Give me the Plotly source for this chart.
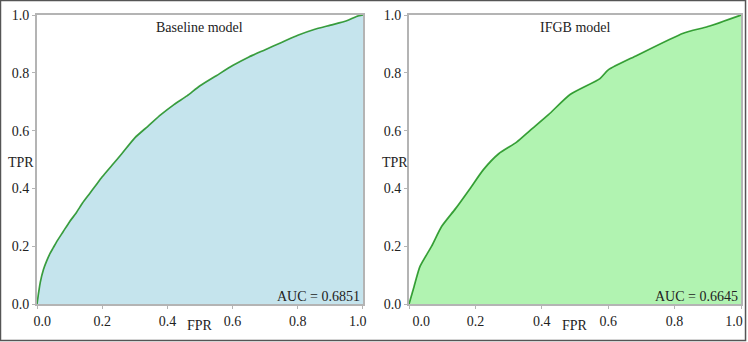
import plotly.graph_objects as go
from plotly.subplots import make_subplots

# ROC curves
baseline_fpr = [0.0, 0.005, 0.01, 0.02, 0.03, 0.04, 0.05, 0.06, 0.08, 0.10,
                0.12, 0.14, 0.16, 0.18, 0.20, 0.23, 0.26, 0.30, 0.34, 0.38,
                0.42, 0.46, 0.50, 0.55, 0.60, 0.65, 0.70, 0.75, 0.80, 0.85,
                0.90, 0.95, 0.98, 1.0]
baseline_tpr = [0.0, 0.04, 0.075, 0.12, 0.15, 0.175, 0.195, 0.215, 0.25, 0.285,
                0.315, 0.35, 0.38, 0.41, 0.44, 0.48, 0.52, 0.575, 0.615, 0.655,
                0.69, 0.72, 0.755, 0.79, 0.825, 0.855, 0.88, 0.905, 0.93, 0.95,
                0.965, 0.98, 0.995, 1.0]

ifgb_fpr = [0.0, 0.015, 0.033, 0.068, 0.098, 0.14, 0.184, 0.224, 0.27, 0.324,
            0.364, 0.42, 0.485, 0.575, 0.6, 0.686, 0.826, 0.9, 1.0]
ifgb_tpr = [0.0, 0.06, 0.13, 0.2, 0.268, 0.33, 0.4, 0.465, 0.52, 0.56,
            0.6, 0.655, 0.725, 0.78, 0.81, 0.86, 0.937, 0.96, 1.0]

panel_titles = ["Baseline model", "IFGB model"]
auc_labels = ["AUC = 0.6851", "AUC = 0.6645"]
fill_colors = ["rgba(173,216,230,0.7)", "rgba(144,238,144,0.7)"]
tick_vals = [0.0, 0.2, 0.4, 0.6, 0.8, 1.0]
tick_text = ["0.0", "0.2", "0.4", "0.6", "0.8", "1.0"]

SERIF = "Liberation Serif"
TEXT_COLOR = "#222222"
FONT = dict(family=SERIF, size=14, color=TEXT_COLOR)
NBSP = "\u00a0"


def padded_ticks(lead, trail):
    """End labels nudged inward, as in the reference (non-breaking spaces)."""
    t = list(tick_text)
    t[0] = NBSP * lead + t[0]
    t[-1] = t[-1] + NBSP * trail
    return t


fig = make_subplots(rows=1, cols=2, horizontal_spacing=0.065)

curves = [(baseline_fpr, baseline_tpr), (ifgb_fpr, ifgb_tpr)]
for i, (fpr, tpr) in enumerate(curves):
    fig.add_trace(go.Scatter(
        x=fpr, y=tpr,
        mode="lines",
        line=dict(color="rgba(0,128,0,0.75)", width=1.7, shape="spline", smoothing=0.6),
        fill="tozeroy",
        fillcolor=fill_colors[i],
        showlegend=False,
        hoverinfo="skip",
    ), row=1, col=i + 1)

axis_style = dict(
    range=[0, 1],
    tickvals=tick_vals,
    ticktext=tick_text,
    showgrid=False,
    zeroline=False,
    showline=True,
    mirror=True,
    linecolor="#b4b4b4",
    linewidth=2,
    ticks="outside",
    ticklen=3,
    tickcolor="#b4b4b4",
    tickfont=FONT,
    automargin=False,
    ticklabeloverflow="allow",
)
fig.update_xaxes(**axis_style)
fig.update_yaxes(**axis_style)
fig.update_xaxes(ticklabelstandoff=0)
fig.update_xaxes(domain=[0.0, 0.4624], ticktext=padded_ticks(3, 3), row=1, col=1)
fig.update_xaxes(domain=[0.5277, 0.9986], ticktext=padded_ticks(7, 4), row=1, col=2)

xdom = ["x domain", "x2 domain"]
ydom = ["y domain", "y2 domain"]
annotations = []
for i in range(2):
    # panel title inside the plot, top centre
    annotations.append(dict(
        text=panel_titles[i], xref=xdom[i], yref=ydom[i], x=0.5, y=0.958,
        xanchor="center", yanchor="middle", showarrow=False, font=FONT,
    ))
    # AUC in the lower right corner
    annotations.append(dict(
        text=auc_labels[i], xref=xdom[i], yref=ydom[i], x=0.997, y=0.026,
        xanchor="right", yanchor="middle", showarrow=False, font=FONT,
    ))
    # FPR label sits on the tick-label row
    annotations.append(dict(
        text="FPR", xref=xdom[i], yref=ydom[i], x=0.5, y=-0.073,
        xanchor="center", yanchor="middle", showarrow=False, font=FONT,
    ))

# TPR labels, horizontal, over the y tick column
for x in (-0.0227, 0.5078):
    annotations.append(dict(
        text="TPR", xref="paper", yref="paper", x=x, y=0.491,
        xanchor="center", yanchor="middle", showarrow=False, font=FONT,
    ))

fig.update_layout(
    width=748,
    height=342,
    margin=dict(l=37, r=6, t=15, b=38),
    plot_bgcolor="white",
    paper_bgcolor="white",
    annotations=annotations,
    shapes=[dict(
        type="rect", xref="paper", yref="paper",
        x0=-0.0518, x1=1.005, y0=-0.1263, y1=1.0502,
        line=dict(color="#555555", width=1.5),
        fillcolor="rgba(0,0,0,0)", layer="above",
    )],
)

# drop the default page margin so the figure sits at the window's corner
fig.write_html("out.html", config={"displayModeBar": False},
               post_script="document.body.style.margin='0';")
